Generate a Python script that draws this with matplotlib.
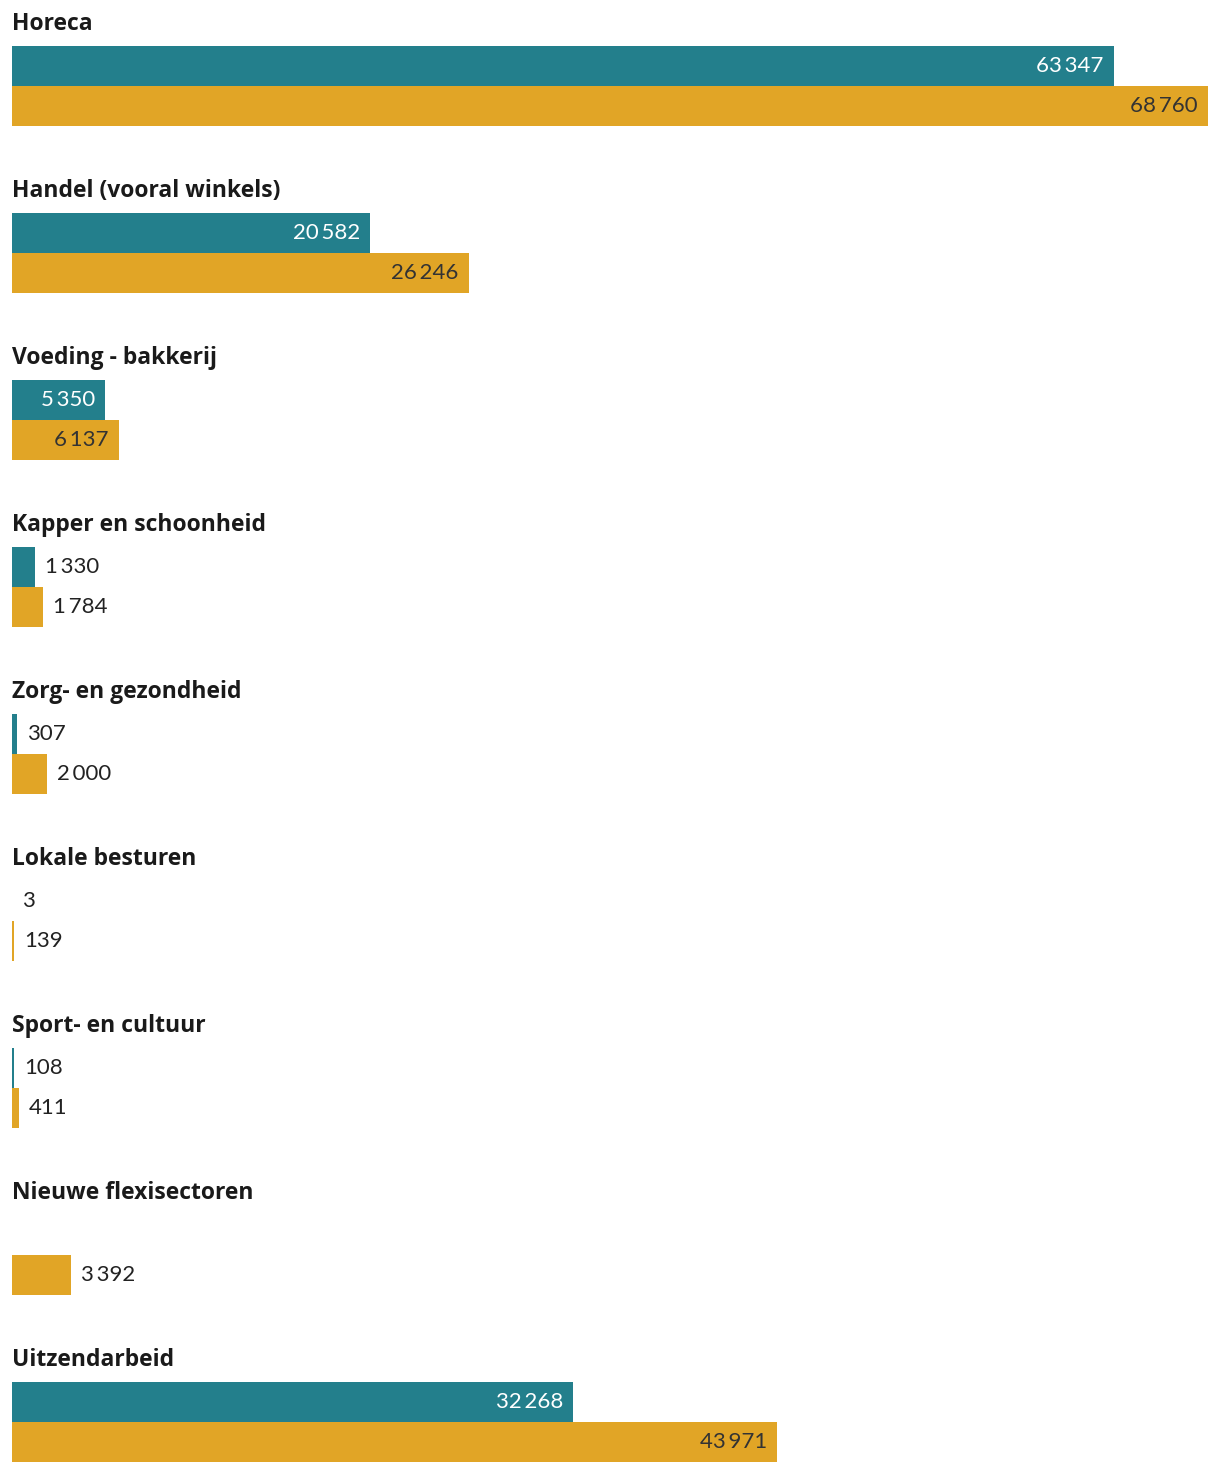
import matplotlib as mpl

mpl.use("Agg")

import numpy as np
import matplotlib.pyplot as plt

plt.rcParams["font.family"] = ["Lato", "DejaVu Sans"]

sectors = [
    "Horeca",
    "Handel (vooral winkels)",
    "Voeding - bakkerij",
    "Kapper en schoonheid",
    "Zorg- en gezondheid",
    "Lokale besturen",
    "Sport- en cultuur",
    "Nieuwe flexisectoren",
    "Uitzendarbeid",
]
series_a = [63347, 20582, 5350, 1330, 307, 3, 108, np.nan, 32268]
series_b = [68760, 26246, 6137, 1784, 2000, 139, 411, 3392, 43971]

TEAL = "#237F8C"
GOLD = "#E1A526"
W, H = 1220, 1472
pitch = 167.0  # px between groups
bar_h = 40 / pitch

fig = plt.figure(figsize=(W / 100, H / 100), dpi=100)
ax = fig.add_axes([12 / W, 0, 1196 / W, 1])
ax.set_xlim(0, max(series_b))
ax.set_ylim((H - 66) / pitch, -66 / pitch)
ax.axis("off")

px = max(series_b) / 1196  # data units per pixel


def fmt(v):
    return f"{int(v):,}".replace(",", "\u2009")


def label(v, y, inside_color):
    if v / px > 85:
        ax.text(v - 10 * px, y, fmt(v), ha="right", va="center",
                fontsize=16, fontweight="normal", color=inside_color)
    else:
        ax.text(v + 10 * px, y, fmt(v), ha="left", va="center",
                fontsize=16, fontweight="normal", color="#222222")


y = np.arange(len(sectors))
for i, name in enumerate(sectors):
    ax.text(0, y[i] - 42 / pitch, name, ha="left", va="center",
            fontsize=16.5, fontweight="bold", color="#1a1a1a",
            family=["Open Sans", "DejaVu Sans"])
    a, b = series_a[i], series_b[i]
    if not np.isnan(a):
        ax.barh(y[i], a, height=bar_h, color=TEAL, align="center")
        label(a, y[i], "white")
    ax.barh(y[i] + bar_h, b, height=bar_h, color=GOLD, align="center")
    label(b, y[i] + bar_h, "#333333")

plt.savefig("out.png", dpi=100)
plt.close()
